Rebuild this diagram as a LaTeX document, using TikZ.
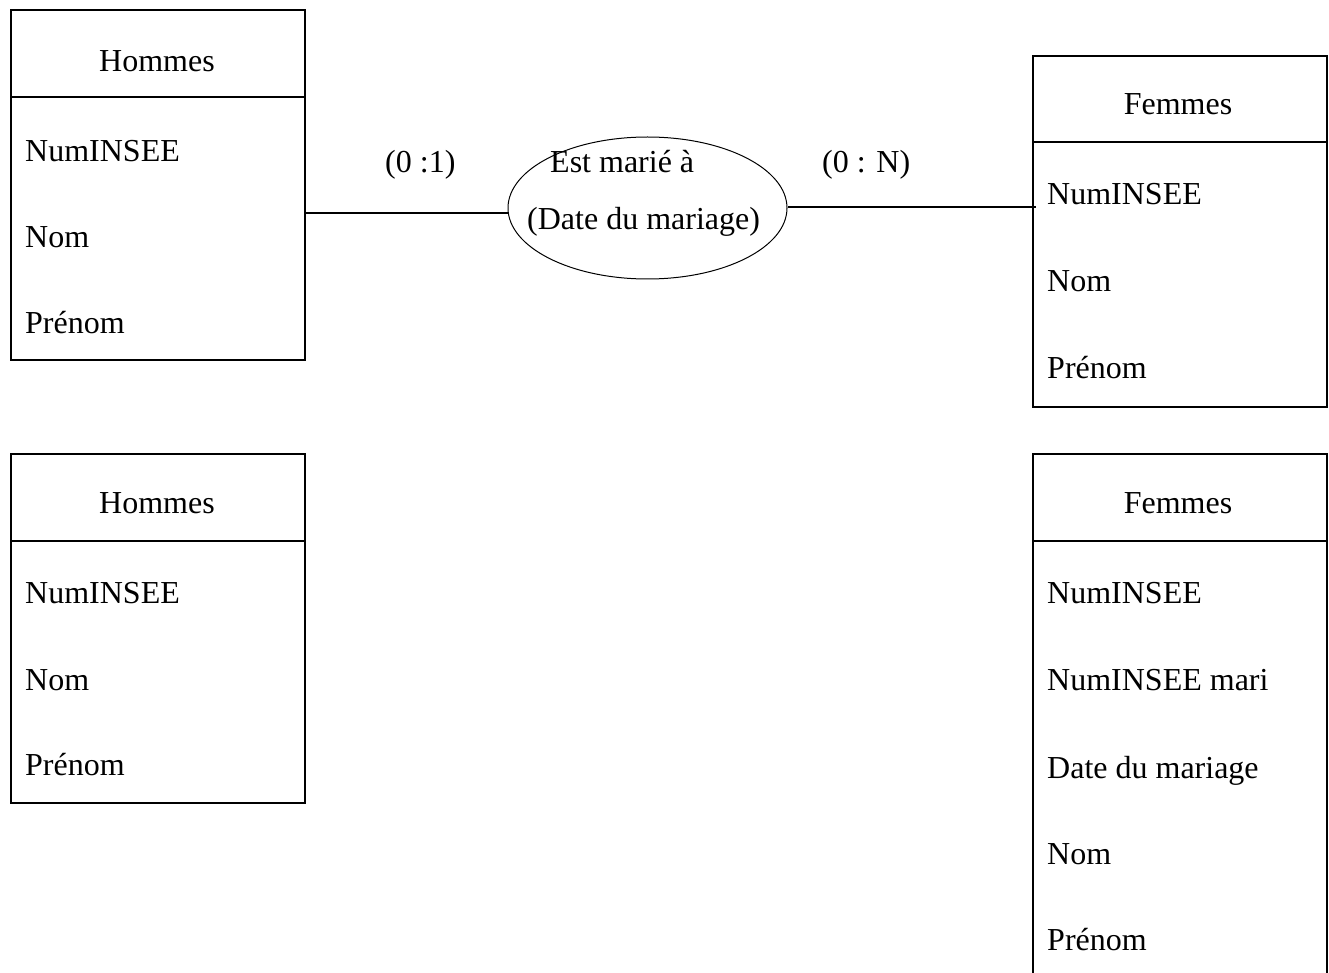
\documentclass[tikz,border=0pt]{standalone}
\usepackage{fontspec}
\setmainfont{Liberation Serif}
\usetikzlibrary{shapes.geometric}
\begin{document}
\begin{tikzpicture}[x=1pt,y=-1pt,
  every node/.style={font=\fontsize{32}{38}\selectfont, inner sep=0pt},
  entity/.style={draw, line width=2pt, anchor=north west, minimum width=294pt},
  assoc/.style={draw, ellipse, line width=1pt, minimum width=279pt, minimum height=142pt},
  attr/.style={anchor=base west},
  title/.style={anchor=base},
  link/.style={line width=1.5pt}]
\clip (0,0) rectangle (1329,973);
\fill[white] (0,0) rectangle (1329,973);

% Conceptual model: Hommes -- Est marié à -- Femmes
\node[entity, minimum height=350pt] (h1) at (10,9) {};
\draw[line width=2pt] (h1.west |- 0,97) -- (h1.east |- 0,97);
\node[title] (h1t) at (157,72) {Hommes};
\node[attr] (h1a) at (25,162) {NumINSEE};
\node[attr] (h1b) at (25,248) {Nom};
\node[attr] (h1c) at (25,333) {Prénom};

\node[assoc] (rel) at (647.5,208) {};
\node[attr] (relt) at (550,173) {Est marié à};
\node[attr] (reld) at (527,230) {(Date du mariage)};

\node[entity, minimum height=351pt] (f1) at (1032,55) {};
\draw[line width=2pt] (f1.west |- 0,142) -- (f1.east |- 0,142);
\node[title] (f1t) at (1178,115) {Femmes};
\node[attr] (f1a) at (1047,205) {NumINSEE};
\node[attr] (f1b) at (1047,292) {Nom};
\node[attr] (f1c) at (1047,378) {Prénom};

\draw[link] (h1.east |- 0,213) -- (rel.west |- 0,213);
\draw[link] (rel.east |- 0,207) -- ([xshift=4pt]f1.west |- 0,207);
\node[attr] (c1) at (385,173) {(0 :1)};
\node[attr] (c2) at (822,173) {(0 : N)};

% Relational model
\node[entity, minimum height=349pt] (h2) at (10,453) {};
\draw[line width=2pt] (h2.west |- 0,541) -- (h2.east |- 0,541);
\node[title] (h2t) at (157,513) {Hommes};
\node[attr] (h2a) at (25,603) {NumINSEE};
\node[attr] (h2b) at (25,690) {Nom};
\node[attr] (h2c) at (25,775) {Prénom};

\node[entity, minimum height=560pt] (f2) at (1032,453) {};
\draw[line width=2pt] (f2.west |- 0,541) -- (f2.east |- 0,541);
\node[title] (f2t) at (1178,513) {Femmes};
\node[attr] (f2a) at (1047,603) {NumINSEE};
\node[attr] (f2b) at (1047,690) {NumINSEE mari};
\node[attr] (f2c) at (1047,778) {Date du mariage};
\node[attr] (f2d) at (1047,864) {Nom};
\node[attr] (f2e) at (1047,950) {Prénom};
\end{tikzpicture}
\end{document}
